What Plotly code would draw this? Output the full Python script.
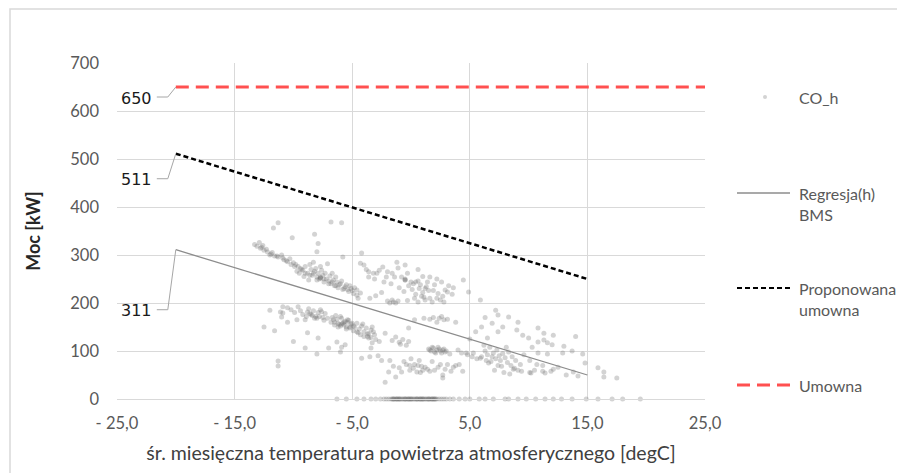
import plotly.graph_objects as go

# ---------------- data ----------------
x_tick_vals = [-25, -15, -5, 5, 15, 25]
x_tick_text = ["- 25,0", "- 15,0", "- 5,0", "5,0", "15,0", "25,0"]
y_tick_vals = [0, 100, 200, 300, 400, 500, 600, 700]

# measured points CO_h (temperature, power)
co_h_temp = [
    -13.3, -13.1, -12.9, -12.8, -12.6, -12.5, -12.2, -12.0, -11.8, -11.6, -11.3, -11.0, -10.8, -10.5, -10.3, -10.0, -9.8, -9.6, -9.4, -9.2,
    -11.3, -11.7, -6.8, -5.9, -8.2, -10.1, -7.9, -8.0, -4.2, -5.8,
    -9.5, -9.3, -9.1, -9.0, -8.8, -8.7, -8.5, -8.4, -8.2, -8.1, -8.0, -7.9, -7.8, -7.7, -7.6, -7.5, -7.4, -7.3, -7.2, -7.0,
    -6.9, -6.8, -6.6, -6.5, -6.3, -6.2, -6.0, -5.9, -5.7, -5.5, -5.4, -5.2, -5.0, -4.8, -8.6, -8.3, -7.7, -7.1, -6.7, -6.4,
    -4.3, -4.0, -3.6, -3.2, -2.9, -2.4, -2.0, -2.1, -1.6, -1.2, -1.1, -1.4, -0.5, -0.8, -0.5, -3.8, -2.7,
    -1.0, -0.6, -0.2, 0.1, 0.4, 0.7, 1.0, 1.3, 1.5, 0.2, 0.6, 0.9, -0.3, 0.3, 0.6, 1.1, 1.2, 1.6, 1.8, 2.2,
    2.5, 2.8, 2.9, 3.1, 4.45, 4.9, 5.9, 3.5, 2.0, 1.4,
    0.6, 1.0, 1.6, 2.2, 2.6, 3.2, 3.6, 0.0, -0.3,
    -2.0, -1.8, -1.6, -1.5, -1.3, -1.1, -4.6, -4.3, -4.5, -3.5, -3.0, -2.5,
    -12.0, -11.1, -10.9, -10.9, -11.0, -9.6, -8.8, -9.0, -9.7, -8.7, -8.5, -8.3, -8.1, -7.9, -7.7, -7.5, -7.3, -8.4, -8.0, -7.6,
    -6.7, -6.5, -6.3, -6.1, -6.0, -5.8, -5.6, -5.5, -5.3, -5.1, -4.9, -6.4, -6.2, -5.9, -5.7, -5.4, -5.2, -5.0, -6.6, -6.0,
    -4.8, -4.6, -4.4, -4.2, -4.0, -3.8, -3.6, -3.4, -3.2, -3.1, -4.5, -4.1, -3.7, -3.3, -3.6, -3.3, -3.4,
    -11.6, -8.8, -7.9, -6.3, -5.9, -5.6, -7.0, -6.0, -9.0, -8.0, -11.3, -11.3, -12.5, -10.5, -10.0,
    -2.2, -1.3, -1.0, -0.7, -0.4, -0.2, -0.9, -0.2, -1.6,
    0.3, 1.1, 1.6, 2.4, 2.8, 3.1, 2.2, 3.8, 2.6, 1.9,
    1.5, 1.7, 1.9, 2.0, 2.2, 2.3, 2.5, 2.6, 2.8, 2.9, 2.1, 1.8, 4.0, 4.7, 5.3, 5.9,
    -4.2, -3.5, -2.8, -2.5, -1.8, -1.5, -1.0, -0.4, -0.1, 0.3, 0.6, 0.9, 1.2, 1.4, -0.1, 0.5, 0.8, 0.2, -2.2, -1.3, -1.9, -0.8,
    1.8, 2.5, 3.1, 3.8, 4.1, 4.4, 3.4, 2.7, 2.7, 2.0,
    7.2, 7.4, 6.9, 7.8, 7.4, 6.5, 8.3, 9.1, 9.0, 9.5, 10.0, 6.0, 5.5, 6.3, 5.0,
    10.8, 11.3, 11.3, 10.8, 11.6, 12.1, 12.0, 10.3, 10.8, 11.6, 12.9, 13.7, 14.6, 10.1, 10.7, 11.2, 10.1, 10.5, 11.2, 11.9,
    12.1, 14.8, 15.9, 16.4, 16.4, 17.5, 13.0, 14.0,
    6.3, 6.5, 6.7, 6.9, 7.0, 7.2, 7.3, 7.5, 7.6, 7.8, 8.0, 8.2, 8.3, 8.5, 8.6, 8.8, 8.9, 9.1, 7.1, 7.9, 8.4, 6.6, 7.4, 9.3, 9.6,
    6.2, 8.1,
    -12.7, -12.3, -11.9, -11.4, -10.9, -10.6, -10.2, -9.9, -9.7, -9.0, -8.6, -8.3, -8.0, -7.7, -7.7, -7.4, -7.0, -6.7, -6.4, -6.1,
    -5.8, -5.6, -5.3, -5.1, -4.9, -4.6,
    -10.5, -10.2, -9.9, -9.4, -9.2, -8.9, -8.6, -8.2, -7.8, -7.4, -7.1, -6.8, -6.5, -6.2, -5.9, -5.5, -5.2, -4.9, -4.6, -4.3,
    -4.0, -3.7, -3.4, -3.0, -2.7, -5.7, -5.4,
    -0.5, -0.5, 0.4, 0.8, 1.2, 1.9, 2.3, 2.7, -1.7, -2.3, -3.1, -3.6,
    1.6, 2.4, 2.7, 3.0, 3.3,
    4.3, 4.8, 5.2, 5.6, 6.0, 6.4, 6.8, 7.7, 8.7, 9.4, 10.2, 11.4, 12.5, 13.2, 13.8, 14.2,
    -0.6, 0.0, 0.7, 1.0, 1.6, 2.3, 2.9, 3.6,
    -6.3, -5.5, -4.6, -4.0, -3.4, -3.0, -2.6, -2.3, -2.1, -1.9, -1.7, -1.6, -1.5, -1.4, -1.3, -1.2, -1.1, -1.0, -0.9, -0.8,
    -0.7, -0.6, -0.5, -0.4, -0.3, -0.2, -0.1, 0.0, 0.1, 0.2, 0.3, 0.4, 0.5, 0.6, 0.7, 0.8, 0.9, 1.0, 1.1, 1.2,
    1.3, 1.4, 1.5, 1.6, 1.7, 1.8, 1.9, 2.0, 2.1, 2.2, 2.4, 2.6, 2.8, 3.0, 3.3, 3.6, 4.1, 4.6, 5.0, 5.8,
    6.3, 7.0, 8.0, 8.3, 9.1, 9.8, 10.6, 11.4, 12.1, 12.8, 13.7, 14.9, 15.9, 17.1, 18.0, 19.5,
    -1.5, -1.0, -0.5, 0.0, 0.5, 1.0, 1.5, 2.0, -1.2, -0.2, 0.8, 1.8,
]
co_h_power = [
    322, 318, 326, 314, 320, 310, 306, 300, 305, 298, 296, 300, 290, 286, 292, 284, 280, 276, 272, 268,
    367, 356, 369, 367, 343, 336, 324, 307, 304, 296,
    262, 270, 255, 276, 262, 248, 270, 258, 266, 272, 254, 262, 250, 252, 268, 258, 244, 262, 250, 246,
    256, 240, 248, 236, 244, 232, 240, 246, 230, 238, 228, 236, 226, 232, 280, 285, 276, 282, 262, 254,
    283, 279, 265, 262, 262, 275, 265, 254, 262, 285, 273, 254, 279, 254, 248, 270, 268,
    232, 224, 236, 228, 218, 230, 222, 234, 226, 240, 246, 214, 205, 210, 202, 212, 206, 210, 202, 210,
    206, 202, 227, 223, 248, 223, 206, 218, 238, 244,
    270, 255, 254, 250, 244, 236, 232, 244, 262,
    204, 200, 206, 202, 200, 204, 227, 221, 210, 210, 215, 222,
    185, 181, 179, 192, 171, 192, 181, 165, 165, 188, 176, 184, 172, 180, 186, 170, 178, 174, 168, 182,
    170, 160, 166, 155, 172, 158, 162, 150, 164, 156, 152, 174, 158, 168, 154, 160, 148, 158, 165, 152,
    150, 158, 146, 152, 140, 148, 136, 144, 140, 134, 138, 156, 130, 150, 127, 117, 106,
    142, 138, 127, 119, 108, 113, 106, 98, 106, 94, 79, 69, 150, 160, 120,
    137, 129, 118, 124, 112, 120, 114, 148, 122,
    165, 168, 166, 168, 165, 166, 160, 160, 172, 170,
    104, 100, 106, 98, 102, 108, 100, 96, 104, 98, 96, 108, 102, 96, 96, 85,
    85, 88, 90, 80, 80, 68, 65, 72, 70, 72, 70, 68, 66, 62, 60, 56, 55, 64, 35, 46, 56, 56,
    78, 72, 72, 70, 72, 58, 58, 44, 50, 60,
    185, 175, 158, 150, 140, 127, 171, 160, 144, 133, 127, 150, 140, 170, 125,
    148, 137, 123, 119, 117, 133, 113, 108, 96, 94, 96, 100, 94, 80, 72, 70, 55, 60, 58, 58,
    62, 75, 65, 56, 46, 44, 110, 130,
    100, 92, 108, 88, 96, 84, 102, 90, 80, 95, 86, 76, 98, 70, 88, 64, 80, 60, 60, 55, 52, 75, 70, 72, 92,
    112, 108,
    316, 312, 302, 298, 294, 288, 280, 276, 266, 262, 258, 262, 248, 252, 254, 250, 240, 244, 236, 238,
    228, 234, 224, 230, 220, 216,
    190, 186, 180, 184, 176, 172, 178, 168, 172, 164, 168, 160, 154, 150, 156, 146, 150, 142, 140, 134,
    130, 136, 128, 124, 120, 160, 165,
    248, 250, 244, 238, 230, 226, 220, 214, 240, 244, 250, 254,
    102, 104, 102, 100, 94,
    96, 92, 88, 84, 88, 80, 78, 68, 62, 58, 54, 54, 66, 50, 56, 48,
    78, 84, 80, 60, 58, 66, 62, 66,
    0, 0, 0, 0, 0, 0, 0, 0, 0, 0, 0, 0, 0, 0, 0, 0, 0, 0, 0, 0,
    0, 0, 0, 0, 0, 0, 0, 0, 0, 0, 0, 0, 0, 0, 0, 0, 0, 0, 0, 0,
    0, 0, 0, 0, 0, 0, 0, 0, 0, 0, 0, 0, 0, 0, 0, 0, 0, 0, 0, 0,
    0, 0, 0, 0, 0, 0, 0, 0, 0, 0, 0, 0, 0, 0, 0, 0,
    0, 0, 0, 0, 0, 0, 0, 0, 0, 0, 0, 0,
]

# regression line (BMS)
reg_temp = [-20, 15]
reg_power = [311, 50]
# proposed contractual power
prop_temp = [-20, 15]
prop_power = [511, 250]
# contractual power
umowna_temp = [-20, 25]
umowna_power = [650, 650]

# labelled values
label_vals = [650, 511, 311]
label_drop = [10, 25, 60]   # leader drop (px)

legend_names = ["CO_h", "Regresja(h)<br>BMS", "Proponowana<br>umowna", "Umowna"]

# ---------------- figure ----------------
FONT = "Lato, 'Open Sans', sans-serif"
GRID = "#d9d9d9"
TXT = "#595959"
PT_COLOR = "rgba(110,110,110,0.3)"

fig = go.Figure()

fig.add_trace(go.Scatter(
    x=co_h_temp, y=co_h_power, mode="markers", name="CO_h",
    marker=dict(size=5, color=PT_COLOR, line=dict(width=0)),
    showlegend=False, cliponaxis=False,
))
fig.add_trace(go.Scatter(
    x=reg_temp, y=reg_power, mode="lines", name="Regresja(h) BMS",
    line=dict(color="#8c8c8c", width=1.3), showlegend=False,
))
fig.add_trace(go.Scatter(
    x=prop_temp, y=prop_power, mode="lines", name="Proponowana umowna",
    line=dict(color="#000000", width=2.5, dash="5px,3px"), showlegend=False,
))
fig.add_trace(go.Scatter(
    x=umowna_temp, y=umowna_power, mode="lines", name="Umowna",
    line=dict(color="#ff5050", width=3, dash="13px,7px"), showlegend=False,
))

shapes = []
annotations = []

# leader lines + value labels
for v, d in zip(label_vals, label_drop):
    shapes.append(dict(
        type="path", xref="x", yref="y",
        xsizemode="pixel", ysizemode="pixel", xanchor=-20, yanchor=v,
        path=f"M0,0 L-8,{-d} L-19,{-d}",
        line=dict(color="#a6a6a6", width=1),
    ))
    annotations.append(dict(
        x=-20, y=v, xref="x", yref="y", text=str(v), showarrow=False,
        xanchor="right", yanchor="middle", xshift=-22, yshift=-d - 1,
        font=dict(family="DejaVu Sans", size=16, color="#1a1a1a"),
    ))

# manual legend (pixel positions converted to paper coordinates)
def px(xp):
    return (xp - 117) / 588

def py(yp):
    return (399 - yp) / 336

# chart border
shapes.append(dict(type="rect", xref="paper", yref="paper",
                   x0=px(10), x1=px(905), y0=py(480), y1=py(9),
                   line=dict(color="#d9d9d9", width=1.5), layer="below"))

# CO_h dot
shapes.append(dict(type="circle", xref="paper", yref="paper",
                   x0=px(763), x1=px(767), y0=py(99), y1=py(95),
                   fillcolor=PT_COLOR, line=dict(width=0)))
# Regresja line
shapes.append(dict(type="line", xref="paper", yref="paper",
                   x0=px(737), x1=px(790), y0=py(193), y1=py(193),
                   line=dict(color="#8c8c8c", width=1.3)))
# Proponowana dashed
shapes.append(dict(type="line", xref="paper", yref="paper",
                   x0=px(737), x1=px(790), y0=py(288), y1=py(288),
                   line=dict(color="#000000", width=2.2, dash="5px,3px")))
# Umowna dashed red
shapes.append(dict(type="line", xref="paper", yref="paper",
                   x0=px(737), x1=px(790), y0=py(385), y1=py(385),
                   line=dict(color="#ff5050", width=3, dash="13px,7px")))

legend_y = [97, 193, 288, 385]
for name, yl in zip(legend_names, legend_y):
    annotations.append(dict(
        x=px(797), y=py(yl - 11), xref="paper", yref="paper", text=name,
        showarrow=False, xanchor="left", yanchor="top", align="left",
        font=dict(family=FONT, size=16, color=TXT),
    ))

fig.update_layout(
    width=897, height=473,
    margin=dict(l=117, r=192, t=63, b=74, autoexpand=False),
    paper_bgcolor="white", plot_bgcolor="white",
    showlegend=False,
    shapes=shapes, annotations=annotations,
    xaxis=dict(
        range=[-25, 25], tickmode="array", tickvals=x_tick_vals, ticktext=x_tick_text,
        showgrid=True, gridcolor=GRID, gridwidth=1, zeroline=False,
        showline=True, linecolor=GRID, linewidth=1, automargin=False,
        ticks="", ticklabelstandoff=9,
        tickfont=dict(family=FONT, size=16.5, color=TXT),
        title=dict(text="śr. miesięczna temperatura powietrza atmosferycznego [degC]",
                   font=dict(family=FONT, size=19.5, color="#404040"), standoff=14),
    ),
    yaxis=dict(
        range=[0, 700], tickmode="array", tickvals=y_tick_vals,
        showgrid=True, gridcolor=GRID, gridwidth=1, zeroline=False, automargin=False,
        ticks="", ticklabelstandoff=17,
        tickfont=dict(family=FONT, size=16.5, color=TXT),
        title=dict(text="<b>Moc [kW]</b>",
                   font=dict(family=FONT, size=18, color="#262626"), standoff=24),
    ),
)

fig.write_html("out.html", config={"displayModeBar": False},
               post_script="document.body.style.margin='0';")
